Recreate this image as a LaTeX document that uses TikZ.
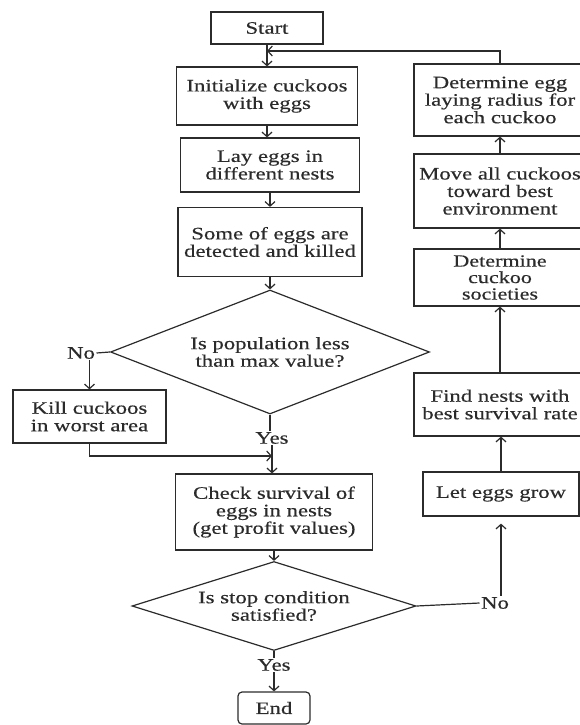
\documentclass[tikz,border=0pt]{standalone}
\usepackage{fontspec}
\setmainfont{Liberation Serif}[FakeStretch=1.3,FakeBold=0.4]
\usetikzlibrary{arrows.meta,shapes.geometric,positioning}
\definecolor{linegray}{gray}{0.17}

\begin{document}
\begin{tikzpicture}[x=1pt,y=-1pt,>={Straight Barb[length=4.5pt,width=10pt]},
	line width=1.2pt,color=linegray,
	every node/.style={font=\fontsize{17.5}{17.5}\selectfont},
	box/.style={rectangle,draw,align=center,inner sep=0pt},
	decision/.style={diamond,draw,align=center,inner sep=0pt},
	tag/.style={inner sep=1pt}]
	\useasboundingbox (0,0) rectangle (580,725);
	
	% the main column
	\node[box,minimum width=112pt,minimum height=32pt] (start) at (267,28) {Start};
	\node[box,minimum width=181pt,minimum height=58pt] (init) at (267,96) {Initialize cuckoos\\with eggs};
	\node[box,minimum width=179pt,minimum height=54pt] (lay) at (270,165) {Lay eggs in\\different nests};
	\node[box,minimum width=184pt,minimum height=69pt] (detect) at (270,242) {Some of eggs are\\detected and killed};
	\node[decision,minimum width=319pt,minimum height=124pt,aspect=2.6] (popq) at (270,352) {Is population less\\than max value?};
	\node[tag] (no1) at (81,353) {No};
	\node[box,minimum width=153pt,minimum height=53pt] (kill) at (89.5,416.5) {Kill cuckoos\\in worst area};
	\node[tag] (yes1) at (272,438) {Yes};
	\coordinate (merge) at (272,456);
	\node[box,minimum width=197pt,minimum height=76pt] (check) at (274,512) {Check survival of\\eggs in nests\\(get profit values)};
	\node[decision,minimum width=284pt,minimum height=89pt,aspect=3.2] (stopq) at (274,606) {Is stop condition\\satisfied?};
	\node[tag] (yes2) at (274,665) {Yes};
	\node[box,rounded corners=4pt,minimum width=72pt,minimum height=32pt] (end) at (274,708) {End};
	\node[tag] (no2) at (495,603) {No};
	
	% the loop column
	\node[box,minimum width=156pt,minimum height=44pt] (grow) at (501,494) {Let eggs grow};
	\node[box,minimum width=172pt,minimum height=63pt] (nests) at (500,404.5) {Find nests with\\best survival rate};
	\node[box,minimum width=172pt,minimum height=57pt,font=\fontsize{17}{16.5}\selectfont] (society) at (500,277.5) {Determine\\cuckoo\\societies};
	\node[box,minimum width=172pt,minimum height=74pt] (move) at (500,191) {Move all cuckoos\\toward best\\environment};
	\node[box,minimum width=172pt,minimum height=72pt] (radius) at (500,100) {Determine egg\\laying radius for\\each cuckoo};
	\coordinate (back) at (267,51);
	
	% the arrows
	\draw[->] (start) -- (init);
	\draw[->] (init.south) -- (init.south |- lay.north);
	\draw[->] (lay) -- (detect);
	\draw[->] (detect) -- (popq);
	\draw (popq.west) -- (no1.east);
	\draw[->] (kill.north |- no1.south) -- (kill.north);
	\draw (popq.south) -- (popq.south |- yes1.north);
	\draw[->] (kill.south) |- (merge);
	\draw[->] (yes1.south) -- (yes1.south |- check.north);
	\draw[->] (check) -- (stopq);
	\draw (stopq.south) -- (yes2.north);
	\draw[->] (yes2) -- (end);
	\draw (stopq.east) -- (no2.west);
	\draw[->,shorten >=7pt] (grow.south |- no2.north) -- (grow.south);
	\draw[->] (grow.north) -- (grow.north |- nests.south);
	\draw[->] (nests) -- (society);
	\draw[->] (society) -- (move);
	\draw[->] (move) -- (radius);
	\draw[->] (radius.north) |- (back);
\end{tikzpicture}
\end{document}
